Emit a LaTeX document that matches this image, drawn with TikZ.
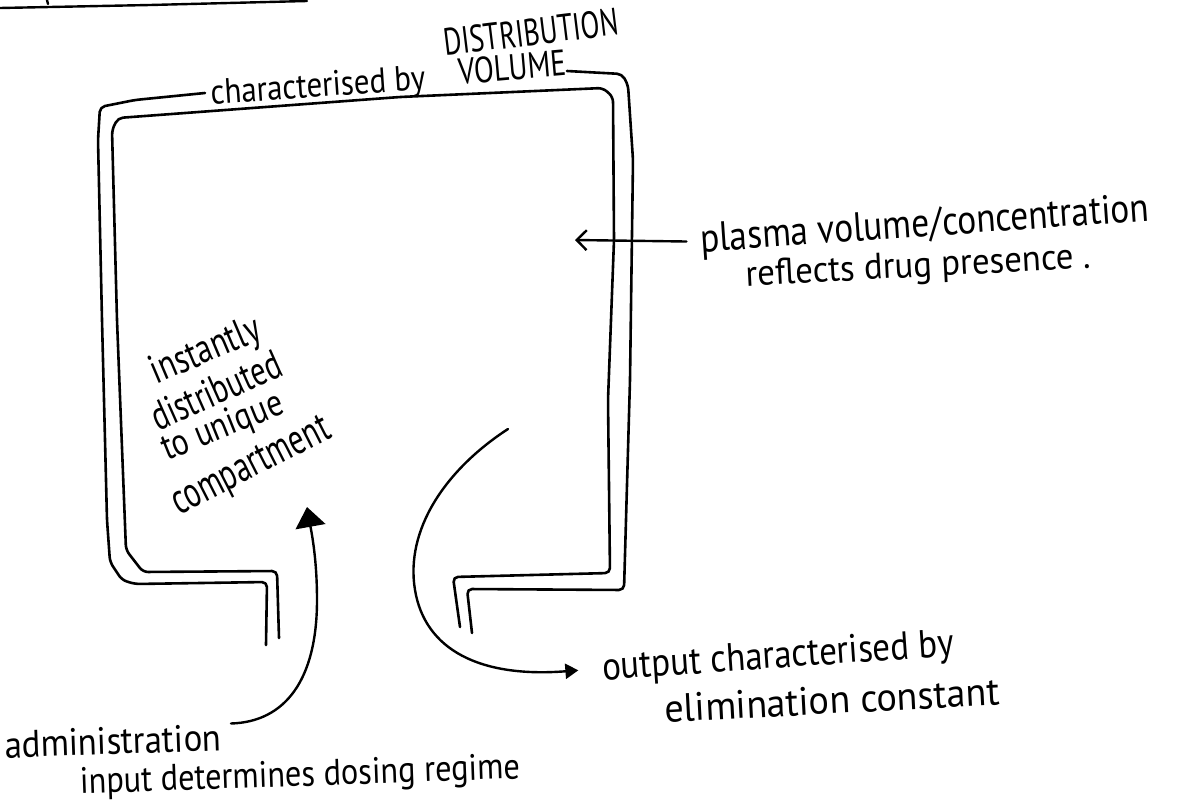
\documentclass[tikz,border=0pt]{standalone}
\usepackage{graphicx}
\usepackage{fontspec}
\setmainfont{PT Sans}
\usetikzlibrary{arrows.meta,calc}
\newcommand{\fitwh}[3]{\resizebox{#1pt}{#2pt}{#3}}
\begin{document}
\begin{tikzpicture}[x=1pt,y=-1pt,
  wall/.style={line width=2.6pt, line join=round, line cap=round, rounded corners=5pt},
  conn/.style={line width=2.4pt, line cap=round},
  lbl/.style={inner sep=0pt, outer sep=0pt}]
\fill[white] (0,0) rectangle (1195,811);
\useasboundingbox (0,0) rectangle (1195,811);

% underline of a cut-off heading
\draw[conn] (0,8) -- (150,5) -- (307,1);
\draw[conn] (47,0) -- (48,4);

% labels
\node[lbl,rotate=4] (charby) at (318,88) {\fitwh{215}{25}{characterised by}};
\node[lbl,rotate=7] (distr) at (531,32) {\fitwh{176}{27}{DISTRIBUTION}};
\node[lbl,rotate=5] (vol) at (512,67) {\fitwh{108}{26}{VOLUME}};
\node[lbl,rotate=4] (plasma) at (925,226) {\fitwh{450}{29}{plasma volume/concentration}};
\node[lbl,rotate=3] (reflects) at (918,268) {\fitwh{345}{26}{reflects drug presence .}};
\node[lbl,rotate=23] (inst1) at (206,352) {\fitwh{116}{29}{instantly}};
\node[lbl,rotate=24] (inst2) at (216,390) {\fitwh{139}{29}{distributed}};
\node[lbl,rotate=22] (inst3) at (223,428) {\fitwh{128}{27}{to unique}};
\node[lbl,rotate=27] (inst4) at (252,468) {\fitwh{173}{27}{compartment}};
\node[lbl,rotate=4] (outlbl) at (778,658) {\fitwh{352}{28}{output characterised by}};
\node[lbl,rotate=3] (elim) at (832,700) {\fitwh{335}{28}{elimination constant}};
\node[lbl,rotate=2] (admin) at (113,741) {\fitwh{217}{27}{administration}};
\node[lbl,rotate=2] (input) at (300,777) {\fitwh{440}{26}{input determines dosing regime}};

% compartment walls
\draw[wall] (205,93) -- (135,100) -- (100,107) -- (98,140) -- (102,320) -- (107,520)
  -- (110,562) -- (122,580) -- (135,584) -- (267,582) -- (266,645);
\draw[wall] (279,638) -- (277,571) -- (143,572) -- (126,550) -- (117,320) -- (112,130)
  -- (118,118) -- (400,97) -- (603,88) -- (613,97) -- (614,240) -- (608,400)
  -- (610,573) -- (453,577) -- (460,627);
\draw[wall] (567,71) -- (622,74) -- (628,85) -- (633,160) -- (630,380) -- (624,590)
  -- (467,589) -- (472,633);

% connectors
\coordinate (intip) at (575,240);
\draw[conn, shorten <=14pt, -{Straight Barb[length=10pt,width=20pt]}] (plasma.west) -- (intip);

\coordinate (inarrow) at (307,507);
\draw[conn, -{Triangle[length=20pt,width=30pt]}] ([xshift=10pt]admin.north east)
  .. controls (285,722) and (317,680) .. (317,600)
  .. controls (317,560) and (312,535) .. (inarrow);

\coordinate (outstart) at (508,429);
\draw[conn, -{Triangle[length=13pt,width=15pt]}] (outstart)
  .. controls (445,470) and (405,530) .. (415,590)
  .. controls (425,650) and (480,678) .. ($(outlbl.west)+(-24,0)$);
\end{tikzpicture}
\end{document}
